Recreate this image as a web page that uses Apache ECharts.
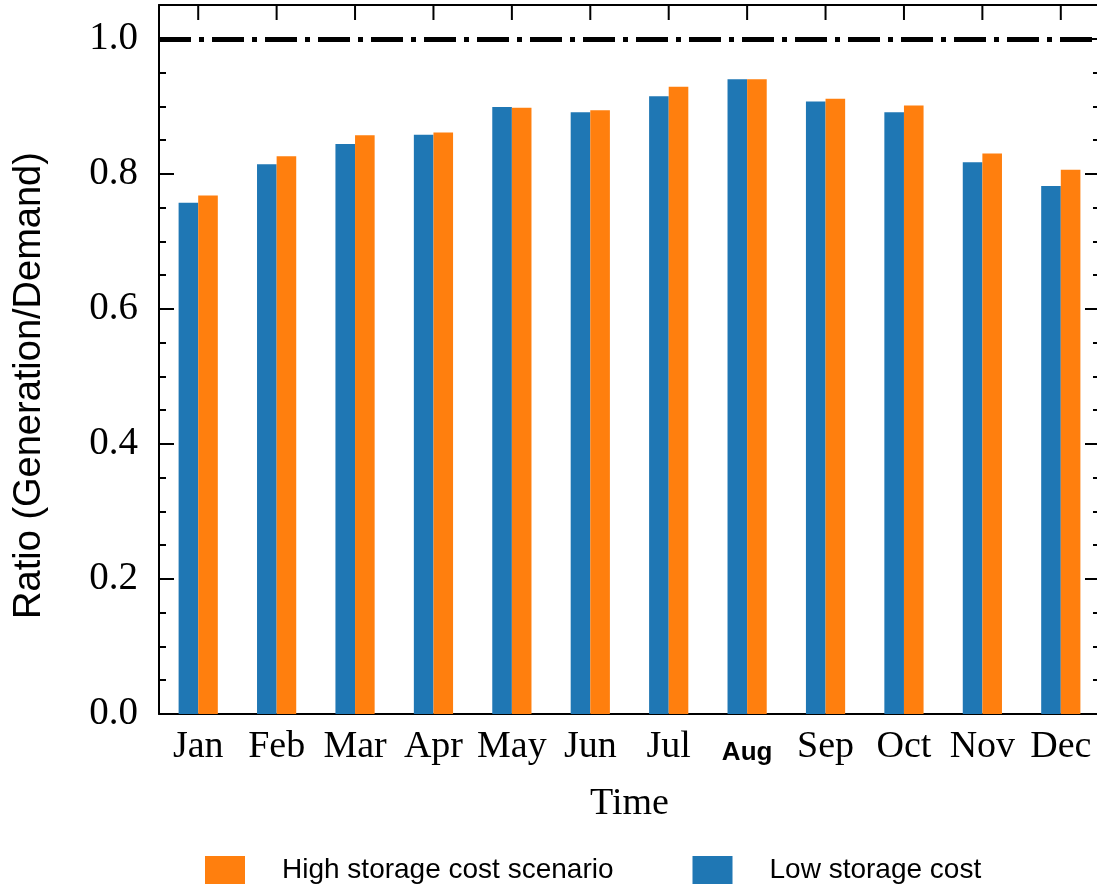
<!DOCTYPE html>
<html>
<head>
<meta charset="utf-8">
<script src="https://cdn.jsdelivr.net/npm/echarts@6/dist/echarts.min.js"></script>
<style>
html,body{margin:0;padding:0;background:#fff;}
#chart{width:1097px;height:888px;}
</style>
</head>
<body>
<div id="chart"></div>
<script>
const months = ['Jan','Feb','Mar','Apr','May','Jun','Jul','Aug','Sep','Oct','Nov','Dec'];
const boldMonths = ['Aug'];
const lowStorage  = [0.757, 0.814, 0.844, 0.858, 0.899, 0.891, 0.915, 0.940, 0.907, 0.891, 0.817, 0.782];
const highStorage = [0.768, 0.826, 0.857, 0.861, 0.898, 0.894, 0.929, 0.940, 0.911, 0.901, 0.830, 0.806];
const referenceLevel = 1.0;
const yMin = 0, yMax = 1.05, yMajor = 0.2, yMinor = 0.05;

const serif = 'Liberation Serif';
const sans = 'Liberation Sans';
const axisLineStyle = {color:'#000', width:2};

function yAx(position, interval, tickLen, withLabels, withLine){
  return {
    type:'value', position, min:yMin, max:yMax, interval,
    axisLine:{show:withLine, lineStyle:axisLineStyle},
    axisTick:{show:true, inside:true, length:tickLen, lineStyle:{color:'#000', width:2}},
    axisLabel:{show:withLabels, showMaxLabel:false, margin:21,
      fontFamily:serif, fontSize:39, color:'#000',
      formatter:v => v.toFixed(1)},
    splitLine:{show:false},
    name: withLabels ? 'Ratio (Generation/Demand)' : '',
    nameLocation:'middle', nameGap:110,
    nameTextStyle:{fontFamily:sans, fontSize:38, color:'#000', padding:[0,52,0,0]}
  };
}

const chart = echarts.init(document.getElementById('chart'));
chart.setOption({
  animation:false,
  backgroundColor:'#fff',
  grid:{left:159, top:5, width:941, height:709, containLabel:false, outerBoundsMode:'none'},
  legend:{
    data:['High storage cost scenario','Low storage cost'],
    left:205, top:856, padding:0, itemWidth:40, itemHeight:28, itemGap:79,
    icon:'rect',
    textStyle:{fontFamily:sans, fontSize:28, color:'#000', padding:[0,0,0,32]}
  },
  xAxis:[{
    type:'category', data:months, position:'bottom',
    axisLine:{onZero:false, lineStyle:axisLineStyle},
    axisTick:{inside:true, length:15, interval:0, alignWithLabel:true, lineStyle:{color:'#000', width:2}},
    axisLabel:{interval:0, margin:14, fontFamily:serif, fontSize:38, color:'#000', lineHeight:38,
      formatter:v => boldMonths.includes(v) ? '{b|' + v + '}' : v,
      rich:{b:{fontFamily:sans, fontWeight:'bold', fontSize:26, lineHeight:50, color:'#000'}}},
    name:'Time', nameLocation:'middle', nameGap:71,
    nameTextStyle:{fontFamily:serif, fontSize:38, color:'#000', verticalAlign:'top'}
  },{
    type:'category', data:months, position:'top',
    axisLine:{onZero:false, lineStyle:axisLineStyle},
    axisTick:{show:false},
    axisLabel:{show:false}
  }],
  yAxis:[
    yAx('left', yMajor, 15, true, true),
    yAx('left', yMinor, 7, false, false),
    yAx('right', yMajor, 15, false, true),
    yAx('right', yMinor, 7, false, false)
  ],
  series:[{
    name:'Low storage cost', type:'bar', data:lowStorage,
    barWidth:'25%', barGap:'0%',
    itemStyle:{color:'#1f77b4'},
    markLine:{
      silent:true, symbol:'none', label:{show:false},
      lineStyle:{color:'#000', width:5, type:[32,8,5,8], cap:'butt'},
      data:[{yAxis:referenceLevel}]
    }
  },{
    name:'High storage cost scenario', type:'bar', data:highStorage,
    barWidth:'25%', barGap:'0%',
    itemStyle:{color:'#ff7f0e'}
  },{
    name:'topTicks', type:'custom', silent:true, clip:false, z:10,
    data:months.map(m => [m, yMax]),
    encode:{x:0, y:1},
    renderItem:(params, api) => {
      const p = api.coord([api.value(0), api.value(1)]);
      return {type:'line', shape:{x1:p[0], y1:p[1], x2:p[0], y2:p[1] + 15},
              style:{stroke:'#000', lineWidth:2}};
    }
  }]
});
</script>
</body>
</html>
